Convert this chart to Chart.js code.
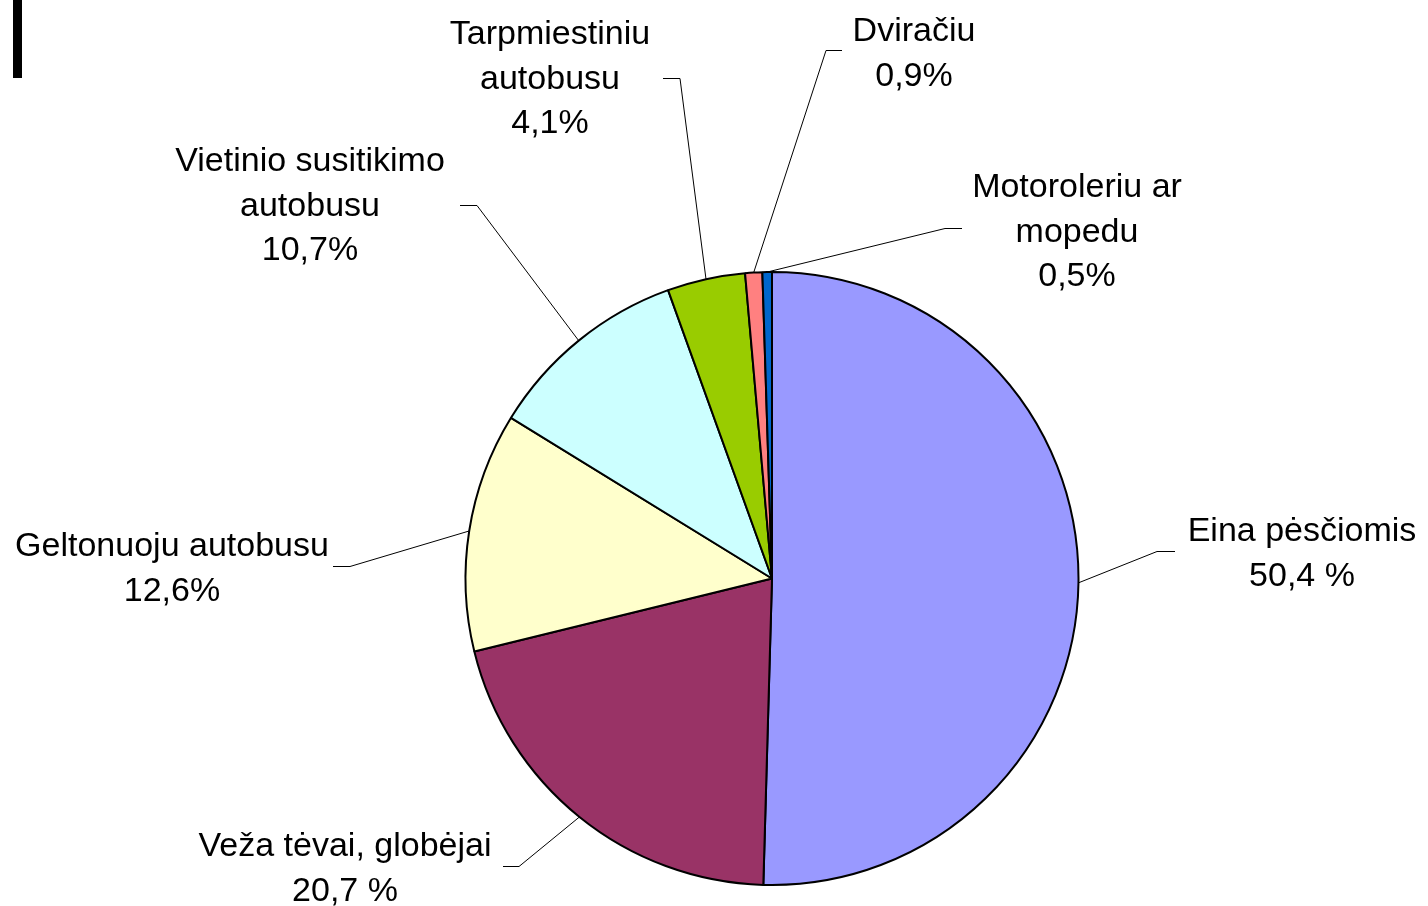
<!DOCTYPE html>
<html>
<head>
<meta charset="utf-8">
<script src="https://cdn.jsdelivr.net/npm/chart.js@4"></script>
<style>
  html, body { margin: 0; padding: 0; background: #fff; }
  #wrap { width: 1428px; height: 906px; position: relative; }
</style>
</head>
<body>
<div id="wrap"><canvas id="myChart"></canvas></div>
<script>
const ctx = document.getElementById('myChart');

// data
var categories = [
    ["Eina pėsčiomis"],
    ["Veža tėvai, globėjai"],
    ["Geltonuoju autobusu"],
    ["Vietinio susitikimo", "autobusu"],
    ["Tarpmiestiniu", "autobusu"],
    ["Dviračiu"],
    ["Motoroleriu ar", "mopedu"]
];
var values = [50.4, 20.7, 12.6, 10.7, 4.1, 0.9, 0.5];
var pctLabels = ["50,4 %", "20,7 %", "12,6%", "10,7%", "4,1%", "0,9%", "0,5%"];
var sliceColors = ["#9999ff", "#993366", "#ffffcc", "#ccffff", "#99cc00", "#ff8080", "#0066cc"];

// label placement: text centre x, first line y, leader elbow x/y, leader end x
var labelPlace = [
    [1302, 532, 1157, 551, 1175],
    [345, 847, 519, 866, 503],
    [172, 547, 350, 566, 333],
    [310, 162, 477, 205, 460],
    [550, 35, 680, 78, 663],
    [914, 32, 826, 50, 842],
    [1077, 188, 945, 228, 962]
];

const leaderLabels = {
    id: 'leaderLabels',
    afterDatasetsDraw(chart) {
        const c = chart.ctx;
        const arcs = chart.getDatasetMeta(0).data;
        c.save();
        // stray mark at the top left of the original image
        c.fillStyle = '#000';
        c.fillRect(13, 0, 9, 78);

        c.strokeStyle = '#000';
        c.lineWidth = 1;
        c.font = '34px "Liberation Sans", Arial, sans-serif';
        c.fillStyle = '#000';
        c.textAlign = 'center';
        c.textBaseline = 'middle';
        arcs.forEach(function (arc, i) {
            const p = arc.getProps(['x', 'y', 'startAngle', 'endAngle', 'outerRadius'], true);
            const mid = (p.startAngle + p.endAngle) / 2;
            const px = p.x + Math.cos(mid) * p.outerRadius;
            const py = p.y + Math.sin(mid) * p.outerRadius;
            const lp = labelPlace[i];
            c.beginPath();
            c.moveTo(px, py);
            c.lineTo(lp[2], lp[3] + 0.5);
            c.lineTo(lp[4], lp[3] + 0.5);
            c.stroke();
            const lines = categories[i].concat([pctLabels[i]]);
            lines.forEach(function (t, k) {
                c.fillText(t, lp[0], lp[1] + k * 44.5);
            });
        });
        c.restore();
    }
};

const chart = new Chart(ctx, {
    type: 'pie',
    data: {
        labels: categories.map(function (l) { return l.join(' '); }),
        datasets: [{
            data: values,
            backgroundColor: sliceColors,
            borderColor: '#000',
            borderWidth: 2
        }]
    },
    options: {
        responsive: true,
        maintainAspectRatio: false,
        animation: false,
        layout: {
            padding: { top: 271, bottom: 20, left: 116, right: 0 }
        },
        plugins: {
            legend: { display: false },
            tooltip: { enabled: false }
        }
    },
    plugins: [leaderLabels]
});
</script>
</body>
</html>
